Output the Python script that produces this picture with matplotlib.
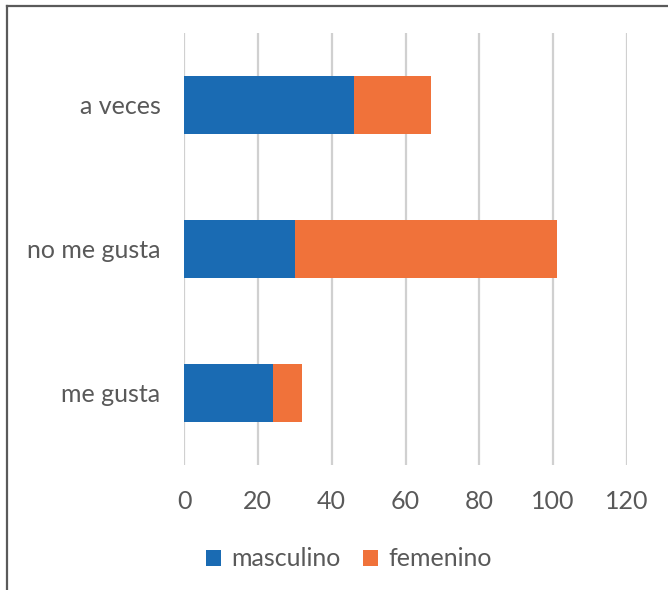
import matplotlib
matplotlib.use("Agg")
import matplotlib.pyplot as plt
from matplotlib.lines import Line2D
import numpy as np

# data
categories = ["me gusta", "no me gusta", "a veces"]
masculino = [24, 30, 46]
femenino = [8, 71, 21]
xticks = [0, 20, 40, 60, 80, 100, 120]

blue = "#1A6BB3"
orange = "#F0723A"
text_col = "#595959"

plt.rcParams["font.family"] = ["Lato", "DejaVu Sans"]

fig = plt.figure(figsize=(6.68, 5.9), dpi=100)
ax = fig.add_axes([184 / 668, 1 - 465 / 590, (627 - 184) / 668, (465 - 33) / 590])

y = np.arange(len(categories))
ax.barh(y, masculino, height=0.4, color=blue, label="masculino", zorder=3)
ax.barh(y, femenino, left=masculino, height=0.4, color=orange, label="femenino", zorder=3)

ax.set_xlim(0, 120)
ax.set_ylim(-0.5, 2.5)
ax.set_xticks(xticks)
ax.set_yticks(y)
ax.set_yticklabels(categories)
ax.xaxis.grid(True, color="#D0D0D0", linewidth=1.6, zorder=0)
ax.tick_params(axis="x", length=0, pad=18, labelsize=18, labelcolor=text_col)
ax.tick_params(axis="y", length=0, pad=17, labelsize=18, labelcolor=text_col)
for s in ax.spines.values():
    s.set_visible(False)

leg = fig.legend(loc="center", bbox_to_anchor=(349 / 668, 1 - 559 / 590), ncol=2,
                 frameon=False, fontsize=18, handlelength=0.6, handleheight=0.6,
                 handletextpad=0.4, columnspacing=0.9)
for t in leg.get_texts():
    t.set_color(text_col)

# frame lines at top and left of the image
fig.add_artist(Line2D([7 / 668, 1], [1 - 6 / 590, 1 - 6 / 590], color="#5A5A5A", linewidth=1.6))
fig.add_artist(Line2D([7 / 668, 7 / 668], [0, 1 - 6 / 590], color="#5A5A5A", linewidth=1.6))

fig.savefig("out.png", dpi=100)
